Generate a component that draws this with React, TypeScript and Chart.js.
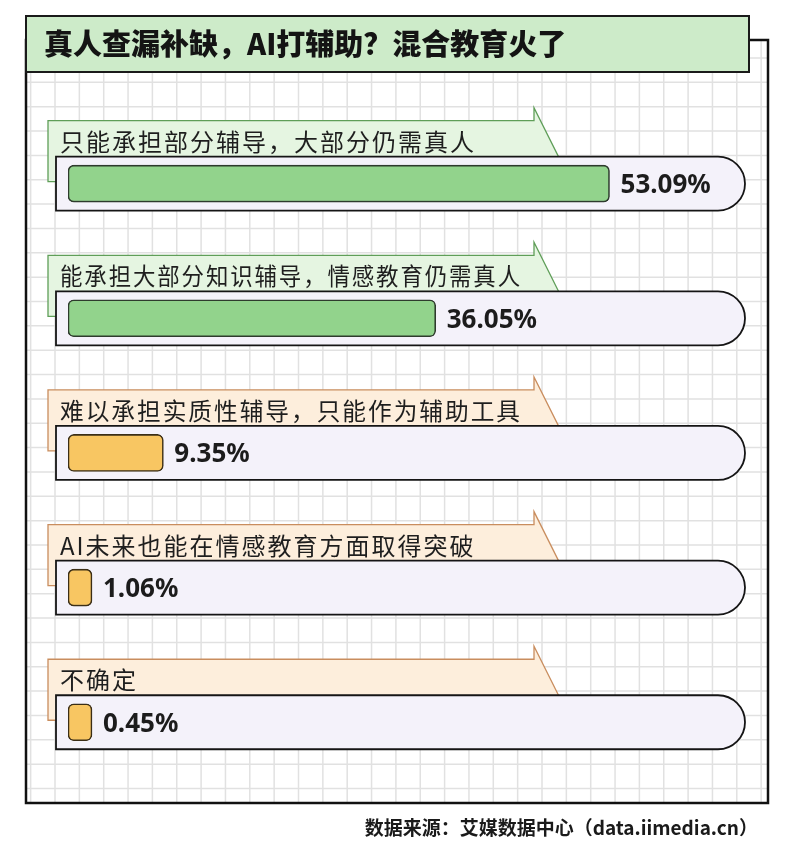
import React, { useEffect, useRef } from "react";
import { Chart, registerables } from "chart.js";

Chart.register(...registerables);

const title = "真人查漏补缺，AI打辅助？混合教育火了";
const source = "数据来源：艾媒数据中心（data.iimedia.cn）";
const categories = [
  "只能承担部分辅导，大部分仍需真人",
  "能承担大部分知识辅导，情感教育仍需真人",
  "难以承担实质性辅导，只能作为辅助工具",
  "AI未来也能在情感教育方面取得突破",
  "不确定",
];
const values = [53.09, 36.05, 9.35, 1.06, 0.45];
const valueLabels = ["53.09%", "36.05%", "9.35%", "1.06%", "0.45%"];
const greenRows = [true, true, false, false, false];

const W = 800;
const H = 857;
const CJK = '"Noto Sans CJK SC", "Noto Sans", sans-serif';
const LATIN = '"Noto Sans", "Noto Sans CJK SC", sans-serif';

const BAR_GREEN = "#92d38c";
const BAR_ORANGE = "#f8c662";
const TAG_GREEN = "#e5f5e1";
const TAG_GREEN_LINE = "#5f9e58";
const TAG_ORANGE = "#fdeedc";
const TAG_ORANGE_LINE = "#c98d5e";

const decoPlugin = {
  id: "deco",
  beforeDraw(chart: any) {
    const ctx = chart.ctx as CanvasRenderingContext2D;
    ctx.save();
    ctx.fillStyle = "#ffffff";
    ctx.fillRect(0, 0, W, H);
    // grid paper
    ctx.save();
    ctx.beginPath();
    ctx.rect(26, 40, 742, 763);
    ctx.clip();
    ctx.strokeStyle = "#e1e1e1";
    ctx.lineWidth = 1.5;
    const step = 24.35;
    for (let x = 55 - step; x < 772; x += step) {
      ctx.beginPath();
      ctx.moveTo(x, 40);
      ctx.lineTo(x, 803);
      ctx.stroke();
    }
    for (let y = 58 - step; y < 806; y += step) {
      ctx.beginPath();
      ctx.moveTo(26, y);
      ctx.lineTo(768, y);
      ctx.stroke();
    }
    ctx.restore();
    // outer box
    ctx.strokeStyle = "#111111";
    ctx.lineWidth = 2.5;
    ctx.strokeRect(26, 40, 742, 763);
    // title box
    ctx.fillStyle = "#cdebc9";
    ctx.fillRect(26, 16, 723, 56);
    ctx.lineWidth = 2;
    ctx.strokeStyle = "#1a1a1a";
    ctx.strokeRect(26, 16, 723, 56);
    ctx.fillStyle = "#141414";
    ctx.font = `900 29px ${CJK}`;
    ctx.textBaseline = "middle";
    ctx.textAlign = "left";
    ctx.fillText(title, 44, 43.5);
    ctx.restore();
  },
  beforeDatasetsDraw(chart: any) {
    const ctx = chart.ctx as CanvasRenderingContext2D;
    const yScale = chart.scales.y;
    const left = chart.chartArea.left;
    ctx.save();
    categories.forEach((label, i) => {
      const cy = yScale.getPixelForValue(i);
      const green = greenRows[i];
      // tag (arrow)
      const tL = left - 20;
      const tTop = cy - 63;
      ctx.beginPath();
      ctx.moveTo(tL, tTop);
      ctx.lineTo(534, tTop);
      ctx.lineTo(534, tTop - 13);
      ctx.lineTo(562, cy - 20);
      ctx.lineTo(540, cy - 2);
      ctx.lineTo(tL, cy - 2);
      ctx.closePath();
      ctx.fillStyle = green ? TAG_GREEN : TAG_ORANGE;
      ctx.fill();
      ctx.lineWidth = 1.3;
      ctx.strokeStyle = green ? TAG_GREEN_LINE : TAG_ORANGE_LINE;
      ctx.stroke();
      // tag text
      ctx.fillStyle = "#1e1e1e";
      ctx.font = `24px ${CJK}`;
      (ctx as any).letterSpacing = "2px";
      ctx.textBaseline = "middle";
      ctx.textAlign = "left";
      ctx.fillText(label, 60, cy - 42, 462);
      (ctx as any).letterSpacing = "0px";
      // track
      const L = left - 12;
      const R = 745;
      const r = 27;
      ctx.beginPath();
      ctx.moveTo(L, cy - r);
      ctx.lineTo(R - r, cy - r);
      ctx.arc(R - r, cy, r, -Math.PI / 2, Math.PI / 2);
      ctx.lineTo(L, cy + r);
      ctx.closePath();
      ctx.fillStyle = "#f4f2fa";
      ctx.fill();
      ctx.lineWidth = 1.8;
      ctx.strokeStyle = "#151515";
      ctx.stroke();
    });
    ctx.restore();
  },
  afterDatasetsDraw(chart: any) {
    const ctx = chart.ctx as CanvasRenderingContext2D;
    const meta = chart.getDatasetMeta(0);
    ctx.save();
    ctx.fillStyle = "#1c1c1c";
    ctx.font = `bold 26px ${LATIN}`;
    ctx.textBaseline = "alphabetic";
    ctx.textAlign = "left";
    meta.data.forEach((bar: any, i: number) => {
      ctx.fillText(valueLabels[i], bar.x + 11, bar.y + 9.5);
    });
    ctx.font = `bold 19px ${CJK}`;
    ctx.textAlign = "right";
    ctx.fillStyle = "#1a1a1a";
    ctx.fillText(source, 758, 835);
    ctx.restore();
  },
};

export default function App() {
  const ref = useRef<HTMLCanvasElement | null>(null);
  useEffect(() => {
    if (!ref.current) return;
    const chart = new Chart(ref.current, {
      type: "bar",
      data: {
        labels: categories,
        datasets: [
          {
            data: values,
            backgroundColor: greenRows.map((g) => (g ? BAR_GREEN : BAR_ORANGE)),
            borderColor: greenRows.map((g) => (g ? "#2e3b2d" : "#3b2e16")),
            borderWidth: 1.6,
            borderRadius: 6,
            borderSkipped: false,
            barThickness: 37,
            minBarLength: 24,
          },
        ],
      },
      options: {
        indexAxis: "y",
        responsive: false,
        animation: false,
        devicePixelRatio: 1,
        layout: { padding: { left: 68, right: 69, top: 116.3, bottom: 67.4 } },
        scales: {
          x: { display: false, min: 0, max: 65, grid: { display: false } },
          y: { display: false, grid: { display: false } },
        },
        plugins: {
          legend: { display: false },
          tooltip: { enabled: false },
        },
      },
      plugins: [decoPlugin],
    } as any);
    return () => chart.destroy();
  }, []);
  return (
    <div style={{ position: "absolute", left: 0, top: 0, width: W, height: H }}>
      <canvas ref={ref} width={W} height={H} style={{ display: "block", width: W, height: H }} />
    </div>
  );
}
